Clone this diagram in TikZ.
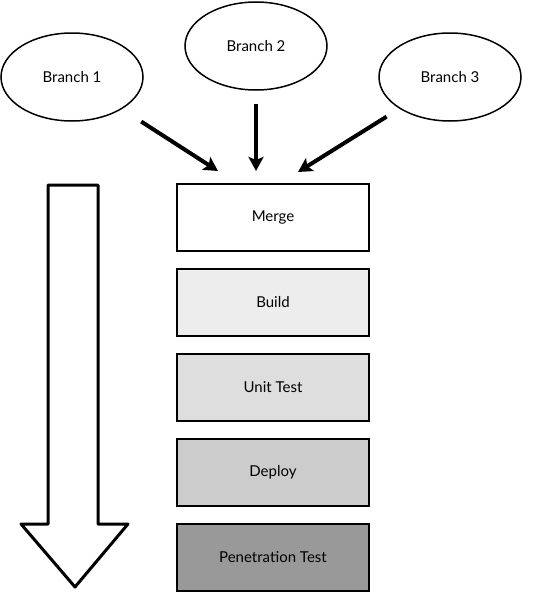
\documentclass[tikz,border=0pt]{standalone}
\usepackage{fontspec}
\setmainfont{Lato}
\usetikzlibrary{arrows.meta,shapes.geometric}
\begin{document}
\begin{tikzpicture}[x=1pt,y=-1pt,
  branch/.style={draw=black,line width=1.5pt,ellipse,minimum width=142pt,minimum height=88pt,inner sep=0pt,font=\fontsize{15}{17}\selectfont},
  stage/.style={draw=black,line width=2pt,rectangle,minimum width=192pt,minimum height=67pt,inner sep=0pt,font=\fontsize{15}{17}\selectfont},
  flow/.style={line width=4pt,-{Stealth[length=14pt,width=15pt,inset=3pt]}}]
\useasboundingbox (0,0) rectangle (540,592);
\node[branch] (b1) at (72,77) {Branch 1};
\node[branch] (b2) at (256,46) {Branch 2};
\node[branch] (b3) at (450,77) {Branch 3};
\node[stage,fill=white] (merge) at (273,217) {Merge};
\node[stage,fill=black!7] (build) at (273,302) {Build};
\node[stage,fill=black!13] (unit) at (273,387) {Unit Test};
\node[stage,fill=black!20] (deploy) at (273,472) {Deploy};
\node[stage,fill=black!40] (pen) at (273,557) {Penetration Test};
\coordinate (t1) at (218,171);
\coordinate (t2) at (256,171);
\coordinate (t3) at (298,172);
\draw[flow,shorten <=23pt] (b1) -- (t1);
\draw[flow,shorten <=13pt] (b2) -- (t2);
\draw[flow,shorten <=15pt] (b3) -- (t3);
\draw[line width=3pt,line join=round,fill=white]
  (48,185) -- (98,185) -- (98,524) -- (128,524) -- (75,587) -- (21,524) -- (48,524) -- cycle;
\end{tikzpicture}
\end{document}
